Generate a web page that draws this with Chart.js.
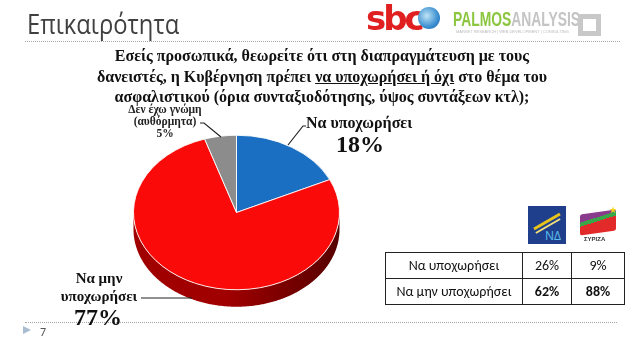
<!DOCTYPE html>
<html><head><meta charset="utf-8">
<script src="https://cdn.jsdelivr.net/npm/chart.js@4"></script>
<style>
html,body{margin:0;padding:0;background:#fff;}
#wrap{position:relative;width:640px;height:343px;overflow:hidden;background:#fff;}
#c{position:absolute;left:0;top:0;}
.abs{position:absolute;white-space:nowrap;}
.serif{font-family:"Liberation Serif","Times New Roman",serif;font-weight:bold;color:#111;}
.sans{font-family:Carlito,"Open Sans",sans-serif;}
#title{left:27px;top:3px;font-size:28px;line-height:40px;color:#404040;font-family:"Open Sans",sans-serif;transform:scaleX(0.85);transform-origin:0 0;}
.dots{position:absolute;height:0;border-top:1px dotted #a8a8a8;}
#question{left:0;top:46px;width:644px;text-align:center;font-size:16px;line-height:20.5px;}
#question u{text-decoration:underline;}
#tbl{position:absolute;left:385px;top:252px;border-collapse:collapse;font-family:Carlito,"Open Sans",sans-serif;font-size:14px;color:#111;}
#tbl td{border:1.5px solid #222;height:25px;padding:0;text-align:center;}
#tbl td.b{font-weight:bold;}
</style></head>
<body>
<div id="wrap">
<canvas id="c" width="640" height="343"></canvas>

<div id="title" class="abs">Επικαιρότητα</div>
<div class="dots" style="left:25px;top:41px;width:595px;"></div>
<div class="dots" style="left:25px;top:322px;width:592px;"></div>

<!-- logos -->
<div class="abs" style="left:366px;top:1px;font-family:'DejaVu Sans',sans-serif;font-weight:bold;font-size:34px;line-height:34px;color:#e02020;letter-spacing:-3px;">sbc</div>
<div class="abs" style="left:418px;top:7px;width:22px;height:22px;border-radius:50%;background:radial-gradient(circle at 40% 40%,#bfe3f5,#3a8fd0 60%,#1f5fa8);"></div>
<div class="abs" style="left:453px;top:7px;font-family:'Liberation Sans',sans-serif;font-weight:bold;font-size:21px;line-height:24px;transform:scaleX(0.66);transform-origin:0 0;"><span style="color:#8cc63f">PALMOS</span><span style="color:#c4c4c4">ANALYSIS</span></div>
<div class="abs" style="left:456px;top:29px;font-family:'Liberation Sans',sans-serif;font-size:4px;color:#bbb;">MARKET RESEARCH | WEB DEVELOPMENT | CONSULTING</div>
<div class="abs" style="left:578px;top:14px;width:13px;height:12px;border:5px solid #c8c8c8;"></div>

<div id="question" class="abs serif">Εσείς προσωπικά, θεωρείτε ότι στη διαπραγμάτευση με τους<br>δανειστές, η Κυβέρνηση πρέπει <u>να υποχωρήσει ή όχι</u> στο θέμα του<br>ασφαλιστικού (όρια συνταξιοδότησης, ύψος συντάξεων κτλ);</div>

<div id="lblA" class="abs serif" style="left:306px;top:115px;font-size:16px;line-height:16px;"></div>
<div id="pctA" class="abs serif" style="left:310px;width:100px;text-align:center;top:132px;font-size:24px;line-height:24px;"></div>
<div id="lblC" class="abs serif" style="left:115px;width:100px;text-align:center;top:103px;font-size:11.5px;line-height:12px;font-weight:bold;color:#222;"></div>
<div id="lblB" class="abs serif" style="left:39px;width:120px;text-align:center;top:269px;font-size:15px;line-height:18px;"></div>
<div id="pctB" class="abs serif" style="left:48px;width:100px;text-align:center;top:305px;font-size:24px;line-height:24px;"></div>

<!-- party logos -->
<div class="abs" style="left:528px;top:206px;width:38px;height:38px;background:#1f3f8c;overflow:hidden;">
  <div class="abs" style="left:4px;top:14px;width:30px;height:3px;background:#e8c31a;transform:rotate(-30deg);"></div>
  <div class="abs" style="left:6px;top:19px;width:28px;height:2px;background:#f4e07a;transform:rotate(-30deg);"></div>
  <div class="abs" id="ndTxt" style="left:17px;top:23px;font-family:'Open Sans',sans-serif;font-size:12px;line-height:14px;color:#5cc0ee;"></div>
</div>
<div class="abs" style="left:580px;top:212px;width:36px;height:21px;background:linear-gradient(170deg,#8a3c8c 0 30%,#3aa64a 30% 45%,#e22a2a 45%);transform:skewY(-8deg);border-radius:2px;"></div>
<div class="abs" style="left:609px;top:206px;color:#f2d21b;font-size:9px;line-height:9px;">★</div>
<div class="abs" id="syrTxt" style="left:584px;top:236px;font-family:'Liberation Sans',sans-serif;font-weight:bold;font-size:6px;color:#333;"></div>

<table id="tbl"></table>

<div class="abs" style="left:23px;top:326px;width:0;height:0;border-top:4.5px solid transparent;border-bottom:4.5px solid transparent;border-left:8px solid #a9bcd0;"></div>
<div class="abs sans" style="left:40px;top:324px;font-size:12px;line-height:16px;color:#555;">7</div>
</div>

<script>
// ---- data ----
const categories = ['Να υποχωρήσει', 'Να μην υποχωρήσει', 'Δεν έχω γνώμη (αυθόρμητα)'];
const shares = [18, 77, 5];
const partyNames = ['ΝΔ', 'ΣΥΡΙΖΑ'];
const tableRows = ['Να υποχωρήσει', 'Να μην υποχωρήσει'];
const ndValues = [26, 62];
const syrizaValues = [9, 88];

// ---- styles ----
const sliceColors = ['#1b6fc2', '#fb0a0a', '#8c8c8c'];
const sideColors = [['#0d3f75', '#0a3360'], ['#a00000', '#560000'], ['#555', '#3a3a3a']];
const TILT = 0.75;
const DEPTH = 17;

// labels
document.getElementById('lblA').textContent = categories[0];
document.getElementById('pctA').textContent = shares[0] + '%';
document.getElementById('lblB').innerHTML = 'Να μην<br>υποχωρήσει';
document.getElementById('pctB').textContent = shares[1] + '%';
document.getElementById('lblC').innerHTML = 'Δεν έχω γνώμη<br>(αυθόρμητα)<br>' + shares[2] + '%';
document.getElementById('ndTxt').textContent = partyNames[0];
document.getElementById('syrTxt').textContent = partyNames[1];

// table
const tbl = document.getElementById('tbl');
tableRows.forEach((r, i) => {
  const tr = document.createElement('tr');
  const bold = i === 1 ? ' class="b"' : '';
  tr.innerHTML = '<td style="width:136px">' + r + '</td><td' + bold + ' style="width:48px">' + ndValues[i] + '%</td><td' + bold + ' style="width:52px">' + syrizaValues[i] + '%</td>';
  tbl.appendChild(tr);
});

const pie3d = {
  id: 'pie3d',
  beforeDatasetsDraw(chart) {
    const ctx = chart.ctx;
    const meta = chart.getDatasetMeta(0);
    const a0 = meta.data[0];
    const cx = a0.x, cy = a0.y, R = a0.outerRadius, ry = R * TILT, d = DEPTH;
    meta.data.forEach((arc, i) => {
      const s = Math.max(arc.startAngle, 0), e = Math.min(arc.endAngle, Math.PI);
      if (e <= s) return;
      const g = ctx.createLinearGradient(cx - R, 0, cx + R, 0);
      g.addColorStop(0, sideColors[i][0]);
      g.addColorStop(0.45, sideColors[i][0]);
      g.addColorStop(1, sideColors[i][1]);
      ctx.save();
      ctx.fillStyle = g;
      ctx.beginPath();
      for (let t = s; t < e; t += 0.01) ctx.lineTo(cx + R * Math.cos(t), cy + ry * Math.sin(t));
      ctx.lineTo(cx + R * Math.cos(e), cy + ry * Math.sin(e));
      for (let t = e; t > s; t -= 0.01) ctx.lineTo(cx + R * Math.cos(t), cy + ry * Math.sin(t) + d);
      ctx.lineTo(cx + R * Math.cos(s), cy + ry * Math.sin(s) + d);
      ctx.closePath();
      ctx.fill();
      ctx.restore();
    });
    ctx.save();
    ctx.translate(cx, cy); ctx.scale(1, TILT); ctx.translate(-cx, -cy);
  },
  afterDatasetsDraw(chart) {
    const ctx = chart.ctx;
    ctx.restore();
    // leader lines
    ctx.save();
    ctx.strokeStyle = '#222';
    ctx.lineWidth = 1.2;
    ctx.beginPath();
    ctx.moveTo(288, 145); ctx.lineTo(303, 126); ctx.lineTo(306, 126);
    ctx.moveTo(200, 123); ctx.lineTo(204, 123); ctx.lineTo(221, 137);
    ctx.moveTo(141, 298); ctx.lineTo(192, 298);
    ctx.stroke();
    ctx.restore();
  }
};

new Chart(document.getElementById('c'), {
  type: 'pie',
  data: {
    labels: categories,
    datasets: [{ data: shares, backgroundColor: sliceColors, borderColor: '#ffffff', borderWidth: 1 }]
  },
  options: {
    responsive: false,
    animation: false,
    layout: { padding: { left: 133, right: 300, top: 109, bottom: 27 } },
    plugins: { legend: { display: false }, tooltip: { enabled: false } }
  },
  plugins: [pie3d]
});
</script>
</body></html>
